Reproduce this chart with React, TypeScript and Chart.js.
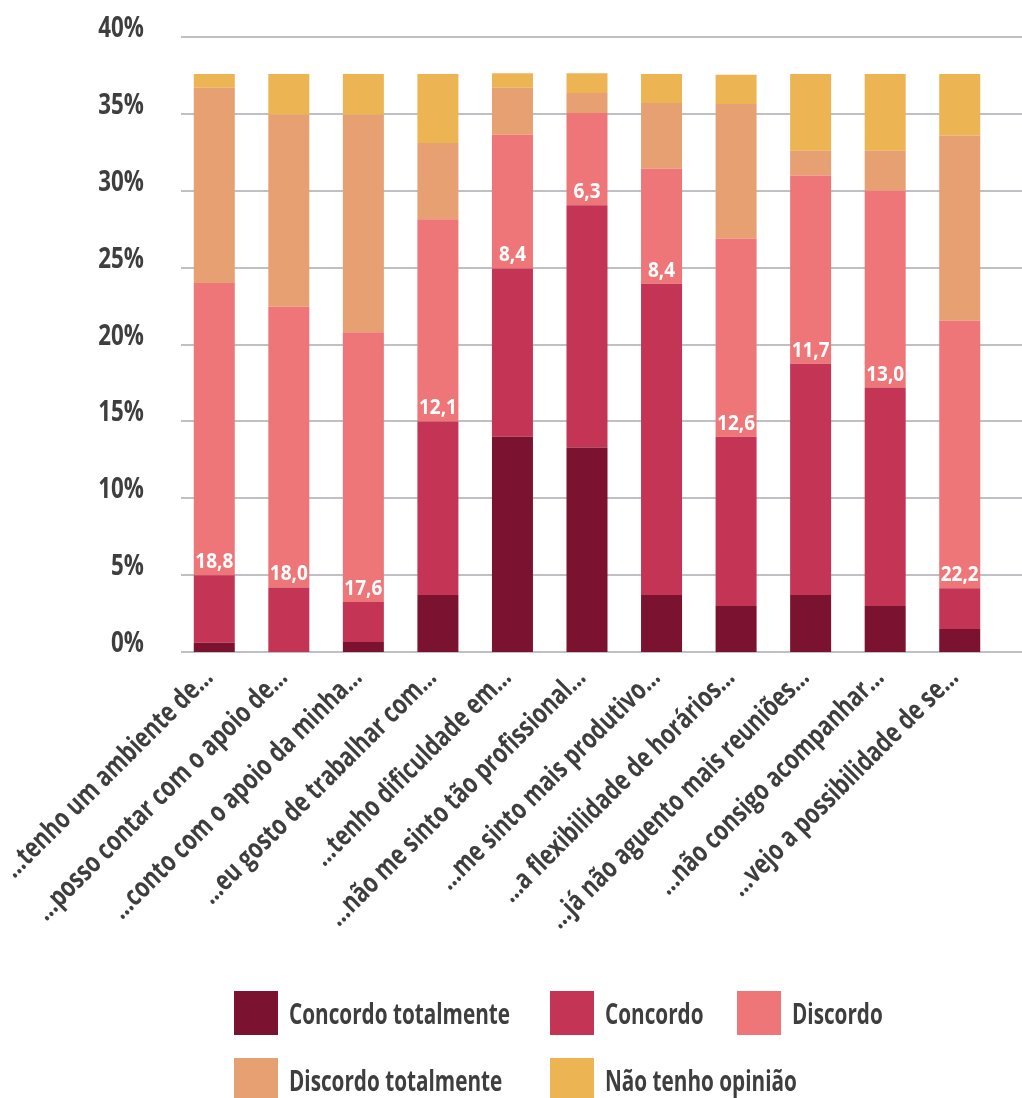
import React, { useEffect, useRef } from "react";
import { Chart, registerables } from "chart.js";

Chart.register(...registerables);

const FONT = '"Open Sans", "Liberation Sans", sans-serif';
const TEXT = "#3e3e3e";

const categories = [
  "…tenho um ambiente de…",
  "…posso contar com o apoio de…",
  "…conto com o apoio da minha…",
  "…eu gosto de trabalhar com…",
  "…tenho dificuldade em…",
  "…não me sinto tão profissional…",
  "…me sinto mais produtivo…",
  "…a flexibilidade de horários…",
  "…já não aguento mais reuniões…",
  "…não consigo acompanhar…",
  "…vejo a possibilidade de se…",
];

const concordoTotalmente = [0.6, 0, 0.65, 3.7, 14.0, 13.3, 3.7, 3.0, 3.7, 3.0, 1.5];
const concordo = [4.4, 4.2, 2.6, 11.3, 10.95, 15.75, 20.25, 11.0, 15.05, 14.2, 2.65];
const discordo = [19.0, 18.25, 17.55, 13.15, 8.7, 6.0, 7.5, 12.9, 12.25, 12.8, 17.4];
const discordoTotalmente = [12.7, 12.5, 14.15, 4.95, 3.05, 1.3, 4.25, 8.75, 1.6, 2.6, 12.05];
const naoTenhoOpiniao = [0.9, 2.65, 2.65, 4.5, 0.95, 1.3, 1.9, 1.9, 5.0, 5.0, 4.0];

const discordoLabels = ["18,8", "18,0", "17,6", "12,1", "8,4", "6,3", "8,4", "12,6", "11,7", "13,0", "22,2"];

const seriesNames = ["Concordo totalmente", "Concordo", "Discordo", "Discordo totalmente", "Não tenho opinião"];
const seriesColors = ["#7b1230", "#c43555", "#ee7678", "#e6a072", "#ecb452"];

const yMin = 0;
const yMax = 40;
const yStep = 5;

// legend grid layout
const legendCols = [234, 550, 737];
const legendRows = [991, 1058];
const legendBox = 44;

function condense(ctx: CanvasRenderingContext2D, sample: string, size: number, target: number) {
  ctx.save();
  ctx.font = `bold ${size}px ${FONT}`;
  const w = ctx.measureText(sample).width;
  ctx.restore();
  return w > 0 ? target / w : 1;
}

function drawText(
  ctx: CanvasRenderingContext2D,
  text: string,
  x: number,
  y: number,
  size: number,
  factor: number,
  align: CanvasTextAlign,
  color: string,
  rotation = 0
) {
  ctx.save();
  ctx.translate(x, y);
  if (rotation) ctx.rotate(rotation);
  ctx.scale(factor, 1);
  ctx.font = `bold ${size}px ${FONT}`;
  ctx.textAlign = align;
  ctx.textBaseline = "alphabetic";
  ctx.fillStyle = color;
  ctx.fillText(text, 0, 0);
  ctx.restore();
}

const gridPlugin = {
  id: "extGrid",
  beforeDatasetsDraw(chart: any) {
    const { ctx } = chart;
    const y = chart.scales.y;
    ctx.save();
    ctx.strokeStyle = "#c0c0c4";
    ctx.lineWidth = 2;
    y.ticks.forEach((t: any) => {
      const py = Math.round(y.getPixelForValue(t.value));
      ctx.beginPath();
      ctx.moveTo(181, py);
      ctx.lineTo(chart.width, py);
      ctx.stroke();
    });
    ctx.restore();
  },
};

const textPlugin = {
  id: "texts",
  afterDraw(chart: any) {
    const ctx: CanvasRenderingContext2D = chart.ctx;
    const xs = chart.scales.x;
    const ys = chart.scales.y;

    // y tick labels
    const fy = condense(ctx, "20%", 28, 45.7);
    ys.ticks.forEach((t: any) => {
      const py = ys.getPixelForValue(t.value);
      drawText(ctx, `${t.value}%`, 144, py, 28, fy, "right", TEXT);
    });

    // x category labels, rotated 45°
    const fx = condense(ctx, categories[0], 28, 283);
    chart.data.labels.forEach((lab: string, i: number) => {
      const px = xs.getPixelForTick(i);
      drawText(ctx, lab, px, 679, 28, fx, "right", TEXT, -Math.PI / 4);
    });

    // Discordo value labels
    const fd = condense(ctx, "18,8", 22, 38);
    const meta = chart.getDatasetMeta(2);
    meta.data.forEach((bar: any, i: number) => {
      const p = bar.getProps(["x", "base"], true);
      drawText(ctx, discordoLabels[i], p.x, p.base - 7, 22, fd, "center", "#ffffff");
    });

    // legend
    const fl = condense(ctx, "Concordo totalmente", 29, 221);
    chart.data.datasets.forEach((ds: any, i: number) => {
      const col = i < 3 ? i : i - 3;
      const row = i < 3 ? 0 : 1;
      const x = legendCols[col];
      const y = legendRows[row];
      ctx.fillStyle = ds.backgroundColor;
      ctx.fillRect(x, y, legendBox, legendBox);
      drawText(ctx, ds.label, x + legendBox + 11, y + 33, 29, fl, "left", TEXT);
    });
  },
};

export default function App() {
  const ref = useRef<HTMLCanvasElement | null>(null);

  useEffect(() => {
    document.body.style.margin = "0";
    if (!ref.current) return;
    const values = [concordoTotalmente, concordo, discordo, discordoTotalmente, naoTenhoOpiniao];
    const chart = new Chart(ref.current, {
      type: "bar",
      data: {
        labels: categories,
        datasets: seriesNames.map((name, i) => ({
          label: name,
          data: values[i],
          backgroundColor: seriesColors[i],
          borderWidth: 0,
          barPercentage: 0.55,
          categoryPercentage: 1,
        })),
      },
      options: {
        responsive: false,
        animation: false,
        layout: { padding: { left: 0, right: 25, top: 37, bottom: 0 } },
        plugins: {
          legend: { display: false },
          tooltip: { enabled: false },
        },
        scales: {
          x: {
            stacked: true,
            grid: { display: false, drawTicks: false },
            border: { display: false },
            ticks: { display: false, autoSkip: false },
            afterFit(scale: any) {
              scale.height = 446;
              scale.paddingLeft = 0;
              scale.paddingRight = 0;
            },
          },
          y: {
            stacked: true,
            min: yMin,
            max: yMax,
            grid: { display: false, drawTicks: false },
            border: { display: false },
            ticks: { display: false, stepSize: yStep },
            afterFit(scale: any) {
              scale.width = 177;
              scale.paddingTop = 0;
              scale.paddingBottom = 0;
            },
          },
        },
      },
      plugins: [gridPlugin, textPlugin],
    });
    return () => chart.destroy();
  }, []);

  return <canvas ref={ref} width={1022} height={1098} style={{ display: "block" }} />;
}
